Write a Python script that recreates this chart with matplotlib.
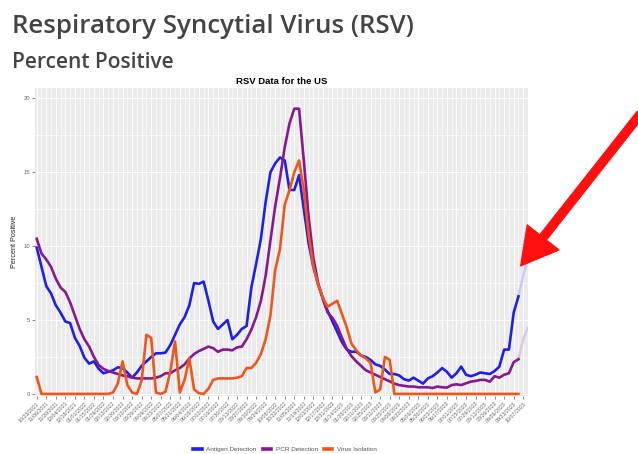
import numpy as np
import matplotlib.pyplot as plt
from matplotlib.patches import FancyArrowPatch

# weekly percent positive, week 0 = 10/23/2021
antigen = [9.9, 8.6, 7.3, 6.8, 6.0, 5.5, 4.9, 4.8, 3.8, 3.25,
           2.45, 2.05, 2.2, 1.7, 1.4, 1.5, 1.6, 1.8, 1.75, 1.45,
           1.1, 1.45, 1.9, 2.2, 2.5, 2.75, 2.75, 2.8, 3.3, 4.0,
           4.7, 5.2, 6.0, 7.5, 7.45, 7.6, 6.3, 4.9, 4.4, 4.7,
           5.0, 3.7, 4.0, 4.4, 4.6, 7.2, 8.8, 10.5, 13.0, 15.0,
           15.6, 16.0, 15.8, 13.8, 13.8, 14.8, 12.5, 10.2, 8.6, 7.4,
           6.5, 5.6, 4.9, 4.2, 3.5, 3.0, 2.85, 2.86, 2.6, 2.5,
           2.3, 2.0, 1.9, 1.65, 1.35, 1.35, 1.25, 1.0, 0.9, 1.1,
           0.9, 0.7, 1.05, 1.2, 1.45, 1.75, 1.5, 1.1, 1.4, 1.85,
           1.3, 1.2, 1.3, 1.45, 1.4, 1.35, 1.55, 1.85, 3.0, 3.0,
           5.5, 6.6]
pcr = [10.5, 9.5, 9.1, 8.6, 7.8, 7.2, 6.9, 6.2, 5.3, 4.4,
       3.7, 3.2, 2.5, 1.95, 1.7, 1.55, 1.45, 1.35, 1.25, 1.2,
       1.1, 1.05, 1.05, 1.05, 1.05, 1.1, 1.2, 1.4, 1.4, 1.6,
       1.75, 2.0, 2.4, 2.7, 2.9, 3.05, 3.2, 3.1, 2.85, 3.0,
       3.0, 2.95, 3.15, 3.2, 3.7, 4.35, 5.2, 6.3, 8.0, 10.4,
       12.7, 14.6, 16.7, 18.3, 19.3, 19.3, 15.8, 12.0, 9.2, 7.5,
       6.4, 5.5, 5.15, 4.6, 3.8, 3.05, 2.55, 2.2, 1.9, 1.6,
       1.45, 1.3, 1.15, 1.0, 0.85, 0.7, 0.6, 0.55, 0.5, 0.5,
       0.45, 0.45, 0.45, 0.4, 0.5, 0.45, 0.43, 0.6, 0.65, 0.6,
       0.72, 0.83, 0.88, 0.95, 0.95, 0.83, 1.2, 1.1, 1.3, 1.4,
       2.15, 2.35]
virus = [1.15, 0.0, 0.0, 0.0, 0.0, 0.0, 0.0, 0.0, 0.0, 0.0,
         0.0, 0.0, 0.0, 0.0, 0.0, 0.0, 0.1, 0.7, 2.2, 0.6,
         0.1, 0.0, 0.9, 4.0, 3.8, 0.1, 0.0, 0.15, 1.5, 3.55,
         0.1, 0.95, 2.4, 0.3, 0.05, 0.0, 0.35, 0.95, 1.05, 1.05,
         1.05, 1.05, 1.1, 1.2, 1.75, 1.75, 2.1, 2.7, 3.7, 5.3,
         8.4, 9.8, 12.8, 13.8, 15.0, 15.8, 13.8, 10.8, 8.6, 7.4,
         6.5, 5.9, 6.1, 6.3, 5.4, 4.5, 3.4, 2.95, 2.6, 2.4,
         2.1, 0.1, 0.3, 2.5, 2.3, 0.0, 0.0, 0.0, 0.0, 0.0,
         0.0, 0.0, 0.0, 0.0, 0.0, 0.0, 0.0, 0.0, 0.0, 0.0,
         0.0, 0.0, 0.0, 0.0, 0.0, 0.0, 0.0, 0.0, 0.0, 0.0,
         0.0, 0.0]
# faded (preliminary) last weeks, starting at week 101
antigen_prelim = [6.6, 8.0, 9.2]
pcr_prelim = [2.35, 3.7, 4.5]

tick_labels = ['10/23/2021', '11/06/2021', '11/20/2021', '12/04/2021', '12/18/2021',
               '01/01/2022', '01/15/2022', '01/29/2022', '02/12/2022', '02/26/2022',
               '03/12/2022', '03/26/2022', '04/09/2022', '04/23/2022', '05/07/2022',
               '05/21/2022', '06/04/2022', '06/18/2022', '07/02/2022', '07/16/2022',
               '07/30/2022', '08/13/2022', '08/27/2022', '09/10/2022', '09/24/2022',
               '10/08/2022', '10/22/2022', '11/05/2022', '11/19/2022', '12/03/2022',
               '12/17/2022', '12/31/2022', '01/14/2023', '01/28/2023', '02/11/2023',
               '02/25/2023', '03/11/2023', '03/25/2023', '04/08/2023', '04/22/2023',
               '05/06/2023', '05/20/2023', '06/03/2023', '06/17/2023', '07/01/2023',
               '07/15/2023', '07/29/2023', '08/12/2023', '08/26/2023', '09/09/2023',
               '09/23/2023', '10/07/2023']

BLUE = '#1f1fe8'
PURPLE = '#86198f'
ORANGE = '#f0561c'

fig = plt.figure(figsize=(6.38, 4.54), dpi=100)
fig.patch.set_facecolor('white')

fig.text(12 / 638, 1 - 33 / 454, 'Respiratory Syncytial Virus (RSV)', fontsize=18.6,
         family='Open Sans', fontweight=600, color='#444444', ha='left', va='baseline')
fig.text(12 / 638, 1 - 68 / 454, 'Percent Positive', fontsize=15,
         family='Open Sans', fontweight=600, color='#444444', ha='left', va='baseline')

ax = fig.add_axes([35 / 638, 1 - 396 / 454, 493 / 638, 308 / 454])
ax.set_facecolor('#ebebeb')
for s in ax.spines.values():
    s.set_visible(False)

x = np.arange(len(antigen))
ax.set_xlim(-0.36, 102.7)
ax.set_ylim(-0.14, 20.7)

ax.set_xticks(np.arange(0, 2 * len(tick_labels), 2))
ax.set_xticklabels(tick_labels, rotation=45, ha='right', rotation_mode='anchor',
                   fontsize=3.8, color='#666666', family='Liberation Sans')
ax.set_xticks(np.arange(1, 104, 2), minor=True)
ax.set_yticks([0, 5, 10, 15, 20])
ax.set_yticklabels(['0', '5', '10', '15', '20'], fontsize=4.2, color='#666666',
                   family='Liberation Sans')
ax.set_yticks([2.5, 7.5, 12.5, 17.5], minor=True)
ax.tick_params(axis='both', which='major', length=2, width=0.5, color='#555555', pad=1.5)
ax.tick_params(axis='both', which='minor', length=0)
ax.grid(which='major', color='white', lw=0.7)
ax.grid(which='minor', color='white', lw=0.45)
ax.axvline(80, color='white', lw=1.0)
ax.set_axisbelow(True)

ax.plot(np.arange(101, 104), antigen_prelim, color='#c9c9f2', lw=1.8, solid_capstyle='round')
ax.plot(np.arange(101, 104), pcr_prelim, color='#dcc6e0', lw=1.8, solid_capstyle='round')
ax.plot(x, antigen, color=BLUE, lw=1.9, label='Antigen Detection', solid_joinstyle='round')
ax.plot(x, pcr, color=PURPLE, lw=1.9, label='PCR Detection', solid_joinstyle='round')
ax.plot(x, virus, color=ORANGE, lw=1.9, label='Virus Isolation', solid_joinstyle='round')

ax.set_title('RSV Data for the US', fontsize=6.8, fontweight='bold',
             family='Liberation Sans', pad=3)
ax.set_ylabel('Percent Positive', fontsize=5.2, family='Liberation Sans',
              color='#222222', labelpad=4)

leg = fig.legend(loc='center', bbox_to_anchor=(285 / 638, 1 - 449 / 454), ncol=3,
                 frameon=False, handlelength=1.3, columnspacing=1.0,
                 handletextpad=0.7, prop={'family': 'Liberation Sans', 'size': 4.6})
for t in leg.get_texts():
    t.set_color('#555555')
for h in leg.legend_handles:
    h.set_linewidth(2.6)

arrow = FancyArrowPatch((642, 454 - 112), (519, 454 - 268), transform=None,
                        arrowstyle='simple,head_width=2.9,head_length=2.6,tail_width=0.6',
                        mutation_scale=10, color='#ff1010', zorder=10)
fig.add_artist(arrow)

fig.savefig('out.png', dpi=100)
